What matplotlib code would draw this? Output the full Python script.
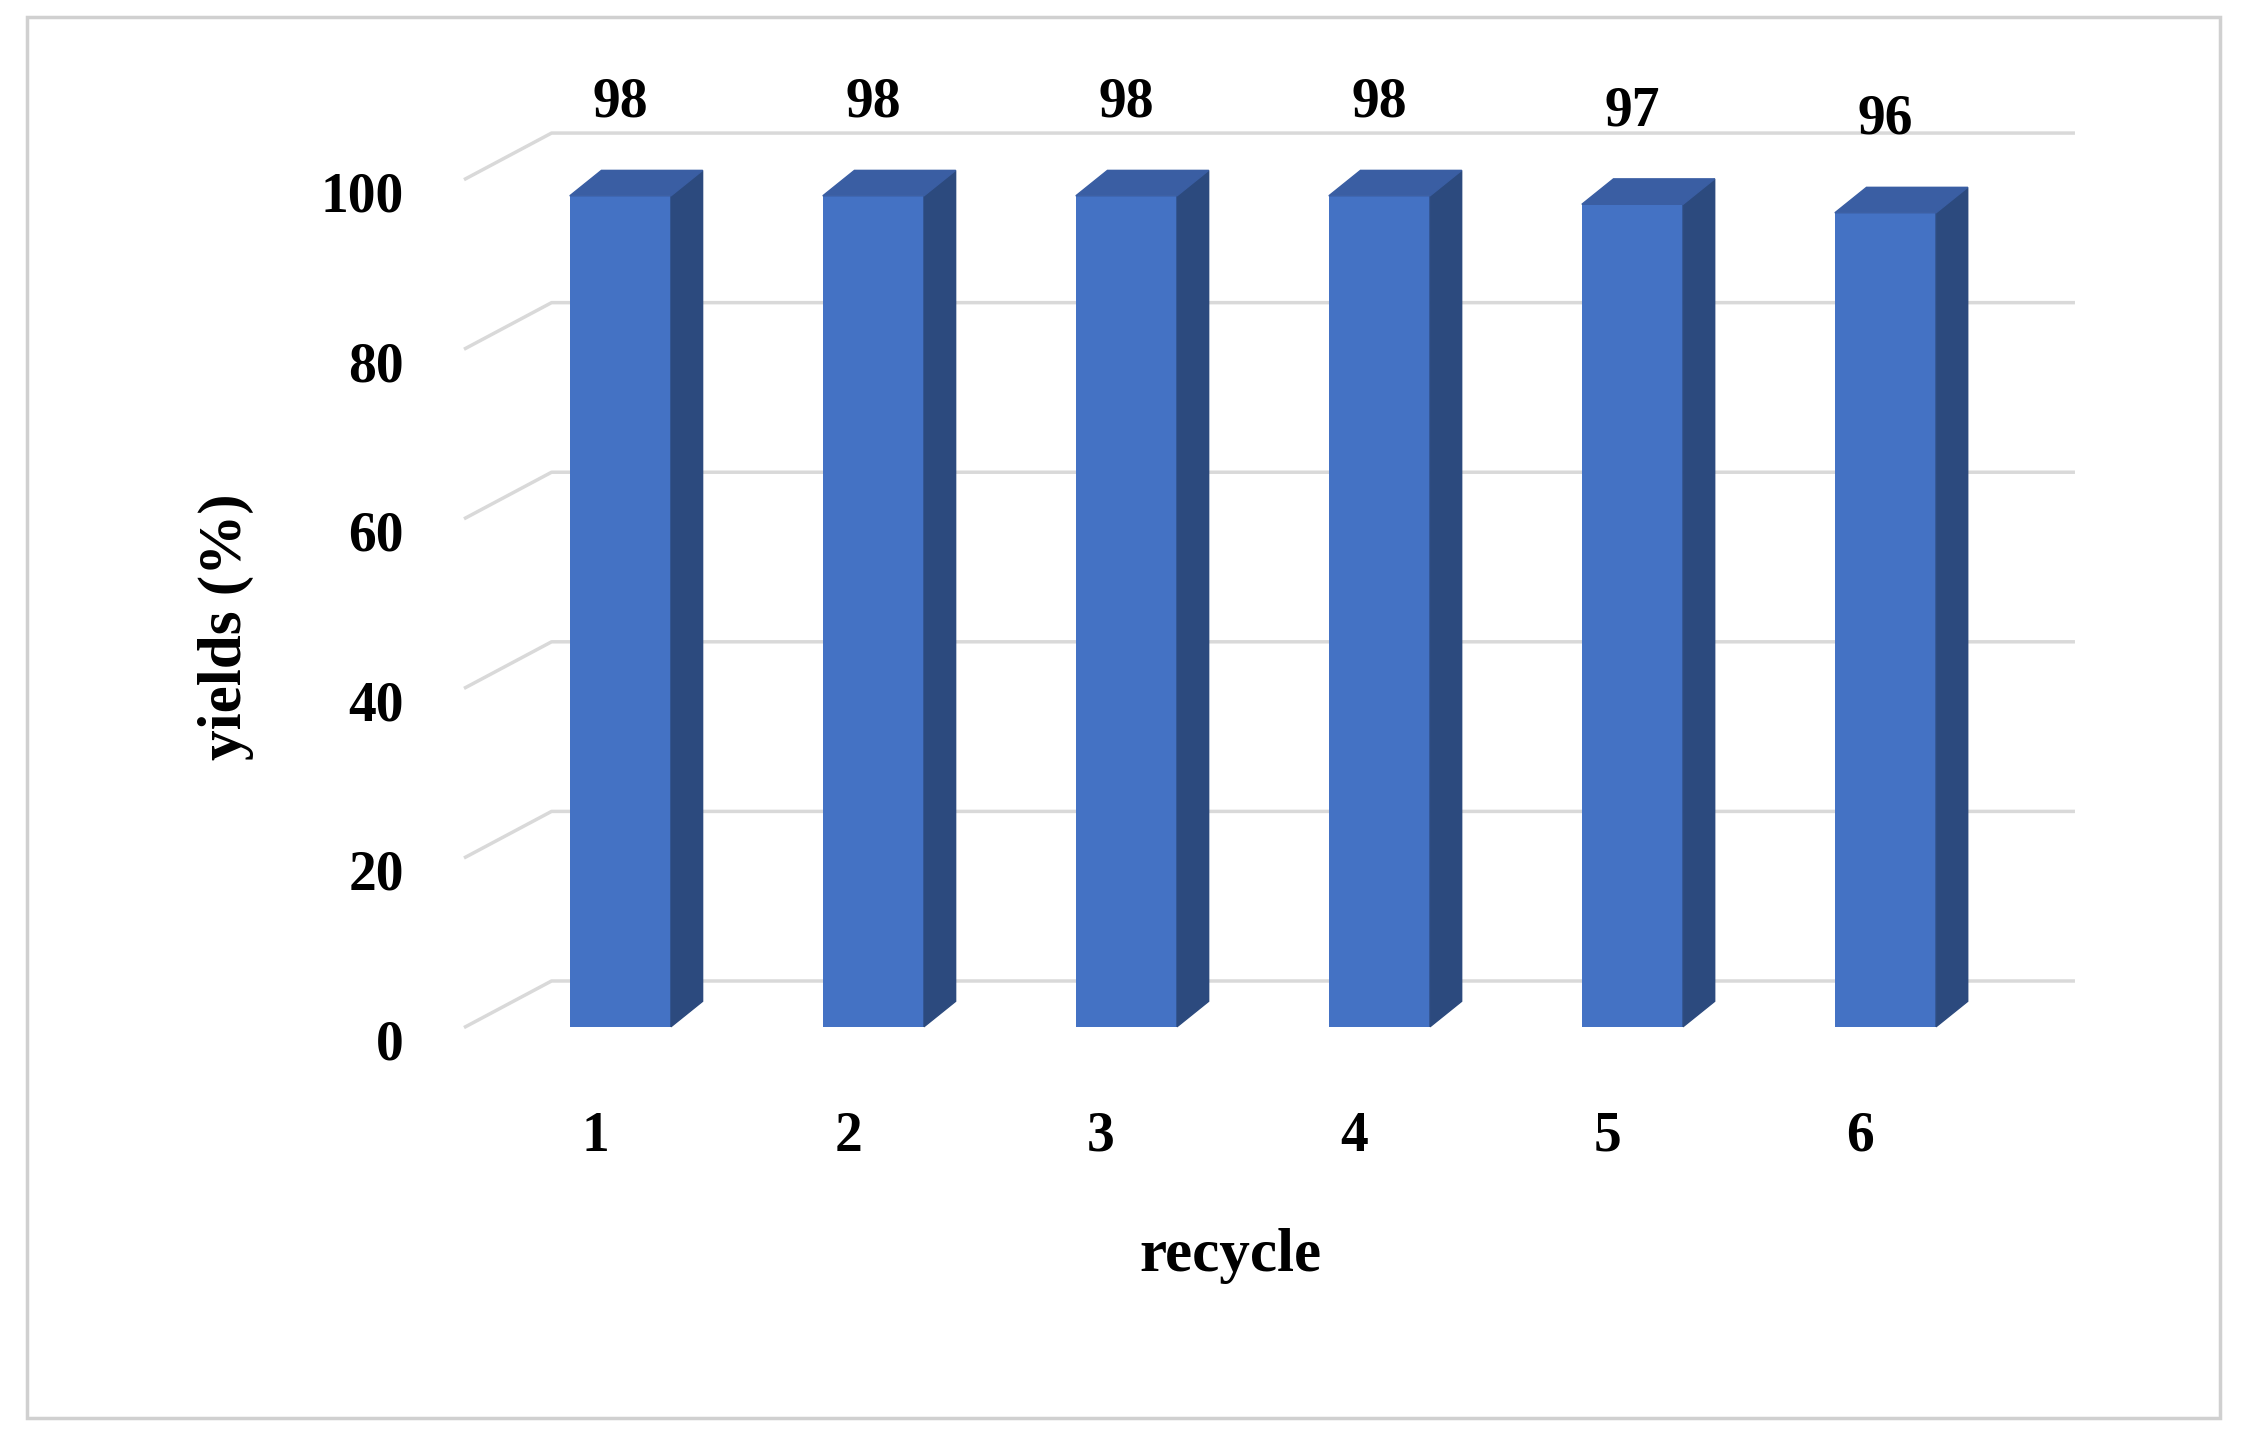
import matplotlib
matplotlib.use("Agg")
import matplotlib.pyplot as plt
from matplotlib.patches import Polygon, Rectangle

categories = ["1", "2", "3", "4", "5", "6"]
yields = [98, 98, 98, 98, 97, 96]
yticks = [0, 20, 40, 60, 80, 100]

plt.rcParams['font.family'] = ['Liberation Serif', 'DejaVu Serif']
fig = plt.figure(figsize=(22.47, 14.4), dpi=100)
ax = fig.add_axes([0.1913, 0.26, 0.746, 0.70])
ax.set_xlim(0.247, 6.872)
ax.set_ylim(-4.58, 114.3)
ax.axis('off')

# frame
fig.patches.append(Rectangle((0.012, 0.015), 0.976, 0.973, transform=fig.transFigure,
                             fill=False, edgecolor='#d0d0d0', lw=2.5))

wdx, wdy = 0.34, 5.4
xl, xr = 0.388, 6.742
for t in yticks:
    ax.plot([xl, xl + wdx, xr], [t, t + wdy, t + wdy], color='#d9d9d9', lw=2.5, zorder=1)
    ax.text(0.145, t - 2.2, str(t), ha='right', va='center', fontsize=40,
            fontweight='bold', clip_on=False)

bw = 0.4
bdx, bdy = 0.125, 3.0
xs = list(range(1, len(categories) + 1))
ax.bar(xs, yields, width=bw, color='#4472C4', zorder=3)
for x, v, c in zip(xs, yields, categories):
    x0, x1 = x - bw / 2, x + bw / 2
    ax.add_patch(Polygon([(x1, 0), (x1 + bdx, bdy), (x1 + bdx, v + bdy), (x1, v)],
                         color='#2C4A7E', zorder=3))
    ax.add_patch(Polygon([(x0, v), (x0 + bdx, v + bdy), (x1 + bdx, v + bdy), (x1, v)],
                         color='#3A5EA3', zorder=3))
    ax.text(x, v + 11, str(v), ha='center', va='center', fontsize=40, fontweight='bold')
    ax.text(x - 0.1, -13, c, ha='center', va='center', fontsize=40, fontweight='bold',
            clip_on=False)

ax.text(3.41, -27, 'recycle', ha='center', va='center', fontsize=44, fontweight='bold',
        clip_on=False)
ax.text(-0.557, 47.2, 'yields (%)', ha='center', va='center', fontsize=44,
        fontweight='bold', rotation=90, clip_on=False)

fig.savefig('out.png', dpi=100)
